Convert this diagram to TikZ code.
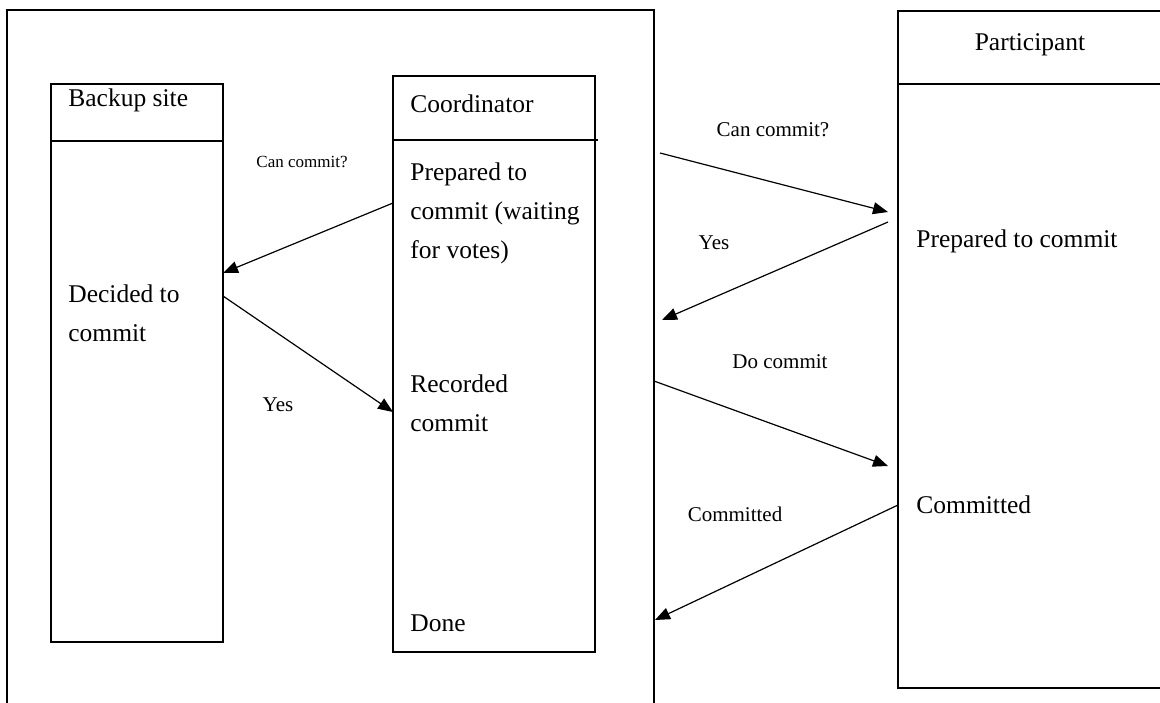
\documentclass[tikz,border=0pt]{standalone}
\usepackage{fontspec}
\setmainfont{Liberation Serif}
\usetikzlibrary{arrows.meta,positioning,calc}

\tikzset{
    lane/.style={draw,line width=0.6pt,rectangle,inner sep=0pt,outer sep=0pt,anchor=north west},
    state/.style={inner sep=0pt,anchor=base west,align=left,font=\fontsize{12.75}{19.5}\selectfont},
    msg/.style={inner sep=0pt,font=\fontsize{10.5}{12}\selectfont},
    flow/.style={line width=0.6pt,-{Triangle[length=7.5pt,width=6pt]}}
}

\begin{document}
\begin{tikzpicture}[x=0.5pt,y=-0.5pt]
    \useasboundingbox (0,0) rectangle (1160,702);
    \clip (0,0) rectangle (1160,702);

    % Boxes
    \node[lane,minimum width=323.5pt,minimum height=360pt] (site) at (7,10) {};
    \node[lane,minimum width=86pt,minimum height=279pt] (backup) at (51,84) {};
    \node[lane,minimum width=101pt,minimum height=288pt] (coord) at (393,76) {};
    \node[lane,minimum width=140pt,minimum height=338.5pt] (part) at (898,11) {};
    \draw[line width=0.6pt] (backup.west |- 0,141) -- (backup.east |- 0,141);
    \draw[line width=0.6pt] (coord.west |- 0,140) -- ([xshift=1.5pt]coord.east |- 0,140);
    \draw[line width=0.6pt] (part.west |- 0,84) -- (1160,84);

    % Titles
    \node[state] (backuptitle) at (68,106) {Backup site};
    \node[state] (coordtitle) at (410,112) {Coordinator};
    \node[state,anchor=base] (parttitle) at (1030,50) {Participant};

    % States (base = last line)
    \node[state] (decided) at (68,341) {Decided to\\commit};
    \node[state] (prepared) at (410,258) {Prepared to\\commit (waiting\\for votes)};
    \node[state] (recorded) at (410,431) {Recorded\\commit};
    \node[state] (done) at (410,631) {Done};
    \node[state] (pprepared) at (916,247) {Prepared to commit};
    \node[state] (pcommitted) at (916,513) {Committed};

    % Messages
    \node[msg,font=\fontsize{8.5}{9}\selectfont] (ask1) at (302,162) {Can commit?};
    \node[msg] (yes1) at (278,405) {Yes};
    \node[msg] (ask2) at (773,130) {Can commit?};
    \node[msg] (yes2) at (714,243) {Yes};
    \node[msg] (docommit) at (780,362) {Do commit};
    \node[msg] (committed) at (735,514) {Committed};

    % Arrows
    \draw[flow] (coord.west |- 0,203) -- (backup.east |- 0,273);
    \draw[flow] (backup.east |- 0,296) -- (coord.west |- 0,412);
    \draw[flow] ([xshift=3pt]site.east |- 0,153) -- ([xshift=-5pt]part.west |- 0,212);
    \draw[flow] ([xshift=-5pt]part.west |- 0,222) -- ([xshift=4pt]site.east |- 0,320);
    \draw[flow] (site.east |- 0,381) -- ([xshift=-5pt]part.west |- 0,466);
    \draw[flow] (part.west |- 0,505) -- ([xshift=0.5pt]site.east |- 0,620);
\end{tikzpicture}
\end{document}
